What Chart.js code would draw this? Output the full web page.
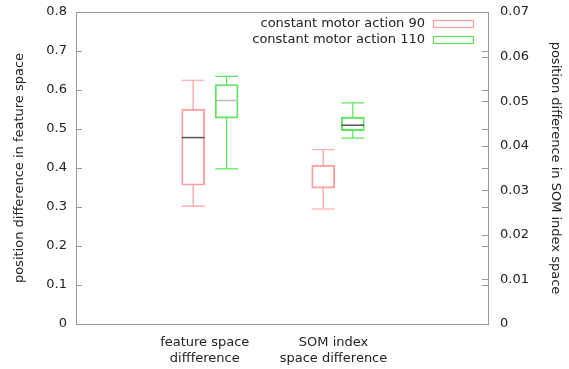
<!DOCTYPE html>
<html>
<head>
<meta charset="utf-8">
<script src="https://cdn.jsdelivr.net/npm/chart.js@4.4.1/dist/chart.umd.min.js"></script>
<style>
  html, body { margin: 0; padding: 0; background: #fff; }
  canvas { display: block; }
</style>
</head>
<body>
<canvas id="chart" width="569" height="369"></canvas>
<script>
// Box plot data
const categoryLabels = [['feature space', 'diffference'], ['SOM index', 'space difference']];
const seriesNames = ['constant motor action 90', 'constant motor action 110'];

// constant motor action 90 (first value: feature space, second: SOM index space)
const min90 = [0.302, 0.0258];
const q1_90 = [0.356, 0.0305];
const median90 = [0.478, null];
const q3_90 = [0.551, 0.0356];
const max90 = [0.625, 0.0391];

// constant motor action 110
const min110 = [0.398, 0.0417];
const q1_110 = [0.528, 0.0434];
const median110 = [0.573, 0.0446];
const q3_110 = [0.614, 0.0464];
const max110 = [0.635, 0.0496];

const leftTicks = [0, 0.1, 0.2, 0.3, 0.4, 0.5, 0.6, 0.7, 0.8];
const rightTicks = [0, 0.01, 0.02, 0.03, 0.04, 0.05, 0.06, 0.07];

// styles
const FONT = { family: 'DejaVu Sans', size: 13 };
const TEXT = '#222';
const FRAME = '#9a9a9a';
const RED = 'rgba(255, 90, 90, 0.6)';
const GREEN = 'rgba(40, 220, 40, 0.75)';
const BOX_W = 23;
const catPos = [0.91, 1.17, 1.92, 2.15];

function boxSet(label, color, i, axis, mins, q1s, meds, q3s, maxs, medColor, x) {
    return {
        label: label,
        yAxisID: axis,
        data: [{ x: x, y: [q1s[i], q3s[i]] }],
        stats: { min: mins[i], max: maxs[i], med: meds[i] },
        medColor: medColor,
        borderColor: color,
        backgroundColor: 'rgba(0,0,0,0)',
        borderWidth: 1.2,
        borderSkipped: false,
        barThickness: BOX_W,
        grouped: false
    };
}

const datasets = [
    boxSet(seriesNames[0], RED, 0, 'y', min90, q1_90, median90, q3_90, max90, '#555', catPos[0]),
    boxSet(seriesNames[1], GREEN, 0, 'y', min110, q1_110, median110, q3_110, max110, '#bbb', catPos[1]),
    boxSet(seriesNames[0], RED, 1, 'y2', min90, q1_90, median90, q3_90, max90, '#555', catPos[2]),
    boxSet(seriesNames[1], GREEN, 1, 'y2', min110, q1_110, median110, q3_110, max110, '#555', catPos[3])
];

// whiskers, medians, frame, inner ticks and key
const boxPlugin = {
    id: 'boxPlugin',
    afterDatasetsDraw(chart) {
        const ctx = chart.ctx;
        const area = chart.chartArea;
        ctx.save();
        chart.data.datasets.forEach((ds, di) => {
            const el = chart.getDatasetMeta(di).data[0];
            const ys = chart.scales[ds.yAxisID];
            const x = el.x;
            const half = BOX_W / 2;
            const yTop = ys.getPixelForValue(ds.data[0].y[1]);
            const yBot = ys.getPixelForValue(ds.data[0].y[0]);
            const yMax = ys.getPixelForValue(ds.stats.max);
            const yMin = ys.getPixelForValue(ds.stats.min);
            ctx.strokeStyle = ds.borderColor;
            ctx.lineWidth = 1.2;
            ctx.beginPath();
            ctx.moveTo(x, yTop); ctx.lineTo(x, yMax);
            ctx.moveTo(x - half, yMax); ctx.lineTo(x + half, yMax);
            ctx.moveTo(x, yBot); ctx.lineTo(x, yMin);
            ctx.moveTo(x - half, yMin); ctx.lineTo(x + half, yMin);
            ctx.stroke();
            if (ds.stats.med !== null) {
                const yMed = ys.getPixelForValue(ds.stats.med);
                ctx.strokeStyle = ds.medColor;
                ctx.lineWidth = 1.5;
                ctx.beginPath();
                ctx.moveTo(x - half, yMed); ctx.lineTo(x + half, yMed);
                ctx.stroke();
            }
        });

        // frame
        ctx.strokeStyle = FRAME;
        ctx.lineWidth = 1;
        ctx.strokeRect(Math.round(area.left) + 0.5, Math.round(area.top) + 0.5,
            Math.round(area.right - area.left), Math.round(area.bottom - area.top));

        // inward tick marks
        ctx.beginPath();
        leftTicks.forEach(v => {
            const y = Math.round(chart.scales.y.getPixelForValue(v)) + 0.5;
            ctx.moveTo(area.left, y); ctx.lineTo(area.left + 6, y);
            ctx.moveTo(area.right, y); ctx.lineTo(area.right - 6, y);
        });
        rightTicks.forEach(v => {
            const y = Math.round(chart.scales.y2.getPixelForValue(v)) + 0.5;
            ctx.moveTo(area.right, y); ctx.lineTo(area.right - 6, y);
        });
        ctx.stroke();

        // key
        ctx.font = FONT.size + 'px ' + FONT.family;
        ctx.fillStyle = TEXT;
        ctx.textAlign = 'right';
        ctx.textBaseline = 'middle';
        [RED, GREEN].forEach((c, i) => {
            const yc = 24 + i * 16;
            ctx.fillText(seriesNames[i], 425, yc);
            ctx.strokeStyle = c;
            ctx.lineWidth = 1.2;
            ctx.strokeRect(433.5, yc - 3.5, 40, 7);
        });
        ctx.restore();
    }
};

new Chart(document.getElementById('chart').getContext('2d'), {
    type: 'bar',
    data: { datasets: datasets },
    options: {
        responsive: false,
        animation: false,
        layout: { padding: { top: 12, left: 0, right: 0, bottom: 0 } },
        plugins: {
            legend: { display: false },
            tooltip: { enabled: false }
        },
        scales: {
            x: {
                type: 'linear',
                min: 0,
                max: 3.2,
                offset: false,
                grid: { display: false, drawTicks: false, offset: false },
                border: { display: false },
                afterBuildTicks: s => { s.ticks = [{ value: 1 }, { value: 2 }]; },
                afterFit: s => { s.height = 45; },
                ticks: {
                    autoSkip: false,
                    maxRotation: 0,
                    padding: 11,
                    color: TEXT,
                    font: FONT,
                    callback: v => v === 1 ? categoryLabels[0] : (v === 2 ? categoryLabels[1] : '')
                }
            },
            y: {
                position: 'left',
                min: 0,
                max: 0.8,
                grid: { display: false, drawTicks: false },
                border: { display: false },
                afterFit: s => { s.width = 76; s.paddingTop = 0; s.paddingBottom = 0; },
                ticks: {
                    stepSize: 0.1,
                    padding: 9,
                    color: TEXT,
                    font: FONT,
                    callback: v => String(Math.round(v * 10) / 10)
                },
                title: {
                    display: true,
                    text: 'position difference in feature space',
                    color: TEXT,
                    font: FONT,
                    padding: { top: 12, bottom: 0 }
                }
            },
            y2: {
                position: 'right',
                min: 0,
                max: 0.07,
                grid: { display: false, drawTicks: false },
                border: { display: false },
                afterFit: s => { s.width = 81; s.paddingTop = 0; s.paddingBottom = 0; },
                ticks: {
                    stepSize: 0.01,
                    padding: 12,
                    color: TEXT,
                    font: FONT,
                    callback: v => String(Math.round(v * 100) / 100)
                },
                title: {
                    display: true,
                    text: 'position difference in SOM index space',
                    color: TEXT,
                    font: FONT,
                    padding: { top: 6, bottom: 0 }
                }
            }
        }
    },
    plugins: [boxPlugin]
});
</script>
</body>
</html>
